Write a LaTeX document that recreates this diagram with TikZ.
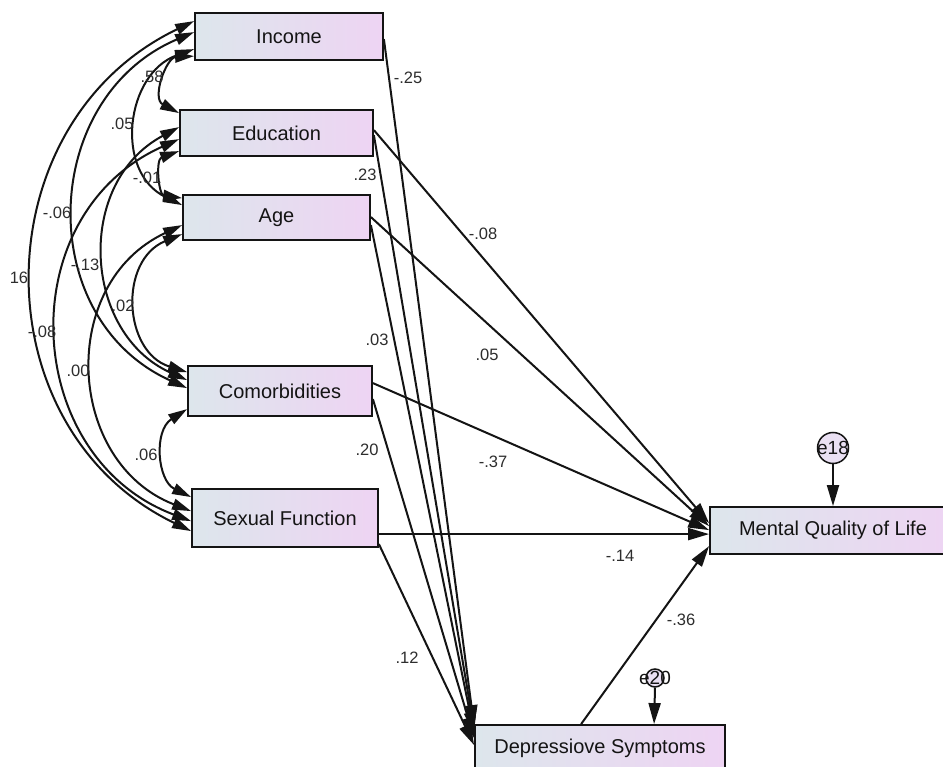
\documentclass[tikz,border=0pt]{standalone}
\usepackage{fontspec}
\setmainfont{Liberation Sans}
\usetikzlibrary{arrows.meta,calc}
\definecolor{gl}{RGB}{221,230,236}
\definecolor{gr}{RGB}{238,212,243}
\definecolor{ink}{RGB}{20,20,20}
\definecolor{lblc}{RGB}{45,45,45}
\definecolor{errfill}{RGB}{234,224,243}
\begin{document}
\begin{tikzpicture}[x=1pt,y=-1pt,
  box/.style={draw=ink, line width=1.8pt, left color=gl, right color=gr, inner sep=0pt, font=\fontsize{20}{24}\selectfont, text=ink},
  regpath/.style={draw=ink, line width=2pt, -{Triangle[length=21pt,width=12pt]}},
  cov/.style={draw=ink, line width=2pt, {Triangle[length=19pt,width=11pt]}-{Triangle[length=19pt,width=11pt]}},
  lbl/.style={font=\fontsize{16.5}{19}\selectfont, text=lblc, inner sep=0pt},
  errc/.style={circle, draw=ink, line width=1.5pt, fill=errfill, inner sep=0pt},
  elbl/.style={font=\fontsize{19}{22}\selectfont, text=ink, inner sep=0pt}]
\useasboundingbox (0,0) rectangle (943,767);
\fill[white] (0,0) rectangle (943,767);

% boxes
\node[box, minimum width=188, minimum height=47] (inc) at (289,36.5) {Income};
\node[box, minimum width=193, minimum height=46] (edu) at (276.5,133) {Education};
\node[box, minimum width=187, minimum height=45] (age) at (276.5,217.5) {Age};
\node[box, minimum width=184, minimum height=50] (com) at (280,391) {Comorbidities};
\node[box, minimum width=186, minimum height=58] (sex) at (285,518) {Sexual Function};
\node[box, minimum width=246, minimum height=47] (mql) at (833,530.5) {Mental Quality of Life};
\node[box, minimum width=250, minimum height=47] (dep) at (600,748.5) {Depressiove Symptoms};

% error terms
\node[errc, minimum size=31, label={[elbl]center:e18}] (e18) at (833,448) {};
\node[errc, minimum size=18, label={[elbl]center:e20}] (e20) at (655,678) {};
\draw[regpath] (e18.south) -- (mql.north);
\draw[regpath] (e20.south) -- ($(dep.north west)+(180,0)$);

% covariances
\draw[cov] ($(inc.north west)+(0,9)$) .. controls (-19,123.4) and (-22,428.1) .. ($(sex.north west)+(0,43)$);
\draw[cov] ($(inc.north west)+(0,20)$) .. controls (39.7,97.8) and (32.7,318.1) .. ($(com.north west)+(0,23)$);
\draw[cov] ($(inc.north west)+(0,37)$) .. controls (125.7,73.6) and (113.7,171.8) .. ($(age.north west)+(0,11)$);
\draw[cov] ($(inc.north west)+(0,44)$) .. controls (166.3,57.6) and (151.3,98.3) .. ($(edu.north west)+(0,4)$);
\draw[cov] ($(edu.north west)+(0,18)$) .. controls (74.7,182.8) and (82.7,332.9) .. ($(com.north west)+(0,15)$);
\draw[cov] ($(edu.north west)+(0,30)$) .. controls (9.3,215.5) and (21.3,457.2) .. ($(sex.north west)+(0,33)$);
\draw[cov] ($(edu.north west)+(0,42)$) .. controls (155.4,159.5) and (158.4,194.6) .. ($(age.north west)+(0,4)$);
\draw[cov] ($(age.north west)+(0,31)$) .. controls (57,283.6) and (66,462.3) .. ($(sex.north west)+(0,23)$);
\draw[cov] ($(age.north west)+(0,40)$) .. controls (118.3,260.6) and (123.3,352.1) .. ($(com.north west)+(0,7)$);
\draw[cov] ($(com.north west)+(0,44)$) .. controls (153.3,430.7) and (157.3,480.5) .. ($(sex.north west)+(0,9)$);

% regression paths to Depressive Symptoms
\draw[regpath] ($(inc.north east)+(0,27)$) -- ($(dep.north west)+(0,2)$);
\draw[regpath] ($(edu.north east)+(0,26)$) -- ($(dep.north west)+(0,5)$);
\draw[regpath] ($(age.north east)+(0,31)$) -- ($(dep.north west)+(0,9)$);
\draw[regpath] ($(com.north east)+(0,34)$) -- ($(dep.north west)+(0,14)$);
\draw[regpath] ($(sex.north east)+(0,56)$) -- ($(dep.north west)+(0,21)$);

% regression paths to Mental Quality of Life
\draw[regpath] ($(edu.north east)+(0,21)$) -- ($(mql.north west)+(0,17)$);
\draw[regpath] ($(age.north east)+(0,23)$) -- ($(mql.north west)+(0,20)$);
\draw[regpath] ($(com.north east)+(0,18)$) -- ($(mql.north west)+(0,24)$);
\draw[regpath] ($(sex.north east)+(0,46)$) -- ($(mql.north west)+(0,28)$);
\draw[regpath] ($(dep.north west)+(107,0)$) -- ($(mql.north west)+(0,40)$);

% path labels
\node[lbl] (l1) at (408,78) {-.25};
\node[lbl] (l2) at (365,175) {.23};
\node[lbl] (l3) at (483,234) {-.08};
\node[lbl] (l4) at (377,340) {.03};
\node[lbl] (l5) at (487,355) {.05};
\node[lbl] (l6) at (367,450) {.20};
\node[lbl] (l7) at (493,462) {-.37};
\node[lbl] (l8) at (620,556) {-.14};
\node[lbl] (l9) at (407,658) {.12};
\node[lbl] (l10) at (681,620) {-.36};

% covariance labels
\node[lbl] (c1) at (152,77) {.58};
\node[lbl] (c2) at (122,124) {.05};
\node[lbl] (c3) at (147,178) {-.01};
\node[lbl] (c4) at (57,213) {-.06};
\node[lbl] (c5) at (85,265) {-.13};
\node[lbl] (c6) at (19,278) {16};
\node[lbl] (c7) at (123,306) {.02};
\node[lbl] (c8) at (42,332) {-.08};
\node[lbl] (c9) at (78,371) {.00};
\node[lbl] (c10) at (146,455) {.06};
\end{tikzpicture}
\end{document}
